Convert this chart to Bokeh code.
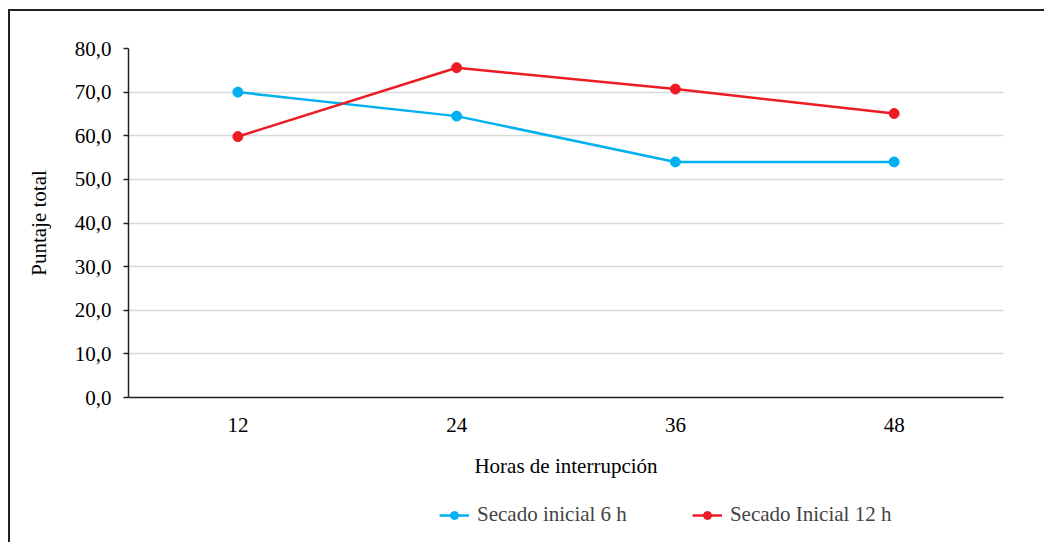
from bokeh.plotting import figure
from bokeh.layouts import column
from bokeh.models import (FactorRange, Range1d, FixedTicker, CustomJSTickFormatter,
                          Legend, LegendItem, InlineStyleSheet)
from bokeh.embed import file_html
from bokeh.resources import INLINE

hours = ["12", "24", "36", "48"]
secado_6h = [70.0, 64.5, 54.0, 54.0]
secado_12h = [59.8, 75.6, 70.7, 65.1]
y_ticks = [0, 10, 20, 30, 40, 50, 60, 70, 80]
series_names = ["Secado inicial 6 h", "Secado Inicial 12 h"]

FONT = "Liberation Serif"
FS = "21px"
BLUE = "#00B0F0"
RED = "#ED1C24"

p = figure(width=1034, height=486, x_range=FactorRange(factors=hours),
           y_range=Range1d(0, 80), output_backend="svg", toolbar_location=None,
           min_border_left=118, min_border_right=41, min_border_top=37,
           min_border_bottom=100)
p.outline_line_color = None
p.background_fill_color = "white"
p.border_fill_color = "white"

p.xgrid.grid_line_color = None
p.ygrid.grid_line_color = "#D9D9D9"
p.ygrid.grid_line_width = 1.3
p.ygrid.ticker = FixedTicker(ticks=y_ticks)

p.yaxis.ticker = FixedTicker(ticks=y_ticks)
p.yaxis.formatter = CustomJSTickFormatter(code="return tick.toFixed(1).replace('.', ',');")
p.yaxis.minor_tick_line_color = None
p.yaxis.major_tick_in = 0
p.yaxis.major_tick_out = 5
p.yaxis.major_label_standoff = 12
p.yaxis.axis_label = "Puntaje total"
p.yaxis.axis_label_standoff = 21

p.xaxis.major_tick_in = 0
p.xaxis.major_tick_out = 0
p.xaxis.major_label_standoff = 20
p.xaxis.axis_label = "Horas de interrupción"
p.xaxis.axis_label_standoff = 19

for ax in (p.xaxis, p.yaxis):
    ax.axis_line_color = "#222222"
    ax.axis_line_width = 1.5
    ax.major_tick_line_color = "#222222"
    ax.major_tick_line_width = 1.5
    ax.major_label_text_font = FONT
    ax.major_label_text_font_size = FS
    ax.major_label_text_color = "black"
    ax.axis_label_text_font = FONT
    ax.axis_label_text_font_size = FS
    ax.axis_label_text_font_style = "normal"
    ax.axis_label_text_color = "black"

p.line(hours, secado_6h, line_color=BLUE, line_width=2.5)
p.scatter(hours, secado_6h, size=10, fill_color=BLUE, line_color=BLUE)
p.line(hours, secado_12h, line_color=RED, line_width=2.5)
p.scatter(hours, secado_12h, size=10, fill_color=RED, line_color=RED)

# Legend strip: same series drawn in a small figure whose ranges keep them out of view
lg = figure(width=1034, height=45, x_range=FactorRange(factors=hours),
            y_range=Range1d(-200, -190), output_backend="svg", toolbar_location=None,
            x_axis_type=None, y_axis_type=None, min_border=0)
lg.outline_line_color = None
lg.xgrid.grid_line_color = None
lg.ygrid.grid_line_color = None
lg.border_fill_color = "white"
lg.background_fill_color = "white"
m1 = lg.line(hours, secado_6h, line_color=BLUE, line_width=2.5)
n1 = lg.scatter(hours, secado_6h, size=10, fill_color=BLUE, line_color=BLUE)
m2 = lg.line(hours, secado_12h, line_color=RED, line_width=2.5)
n2 = lg.scatter(hours, secado_12h, size=10, fill_color=RED, line_color=RED)

legend = Legend(items=[LegendItem(label=series_names[0], renderers=[m1, n1]),
                       LegendItem(label=series_names[1], renderers=[m2, n2])],
                orientation="horizontal", location=(311, 15),
                border_line_color=None, background_fill_alpha=0,
                label_text_font=FONT, label_text_font_size=FS,
                glyph_width=30, glyph_height=20, label_standoff=8, spacing=65,
                padding=0, margin=0)
lg.add_layout(legend)

layout = column(p, lg, spacing=0, margin=(9, 0, 0, 8))
layout.stylesheets = [InlineStyleSheet(css=":host { border-left: 2px solid #222; border-top: 2px solid #222; }")]

open("out.html", "w").write(file_html(layout, INLINE))
